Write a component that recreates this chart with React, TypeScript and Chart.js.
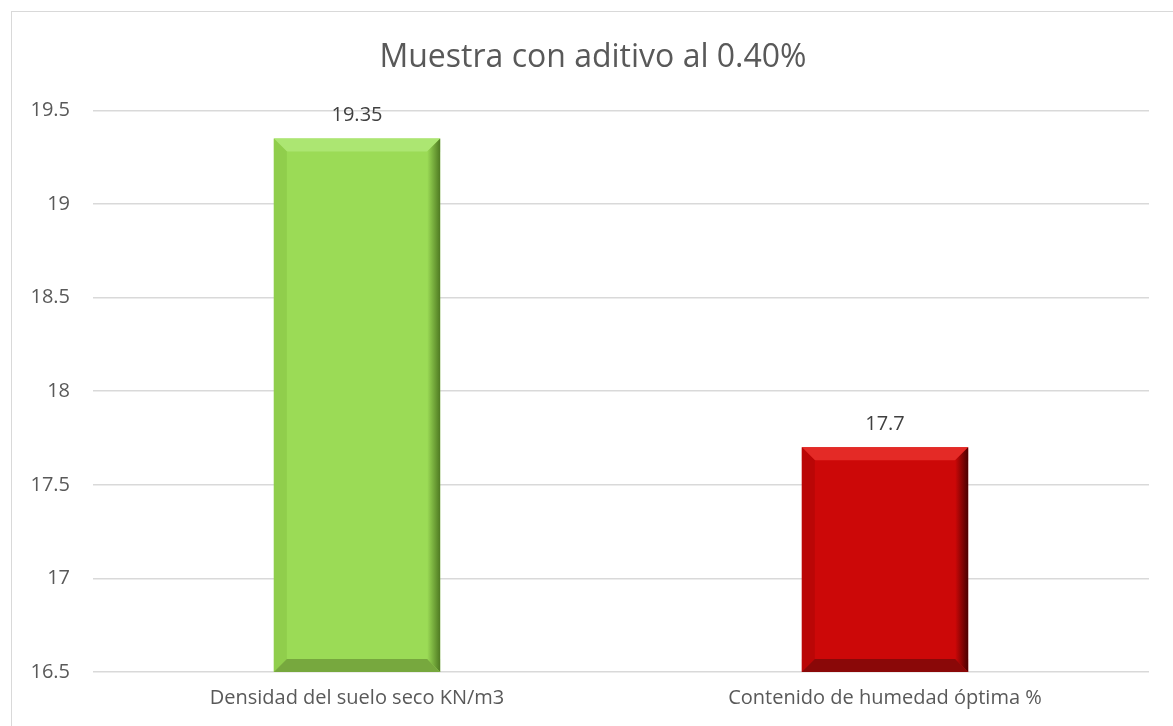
import React, { useEffect, useRef } from "react";
import { Chart, registerables } from "chart.js";

Chart.register(...registerables);

const categories = ["Densidad del suelo seco KN/m3", "Contenido de humedad óptima %"];
const values = [19.35, 17.7];
const barColors = ["#9BDB56", "#CC0808"];
const yTicks = [16.5, 17, 17.5, 18, 18.5, 19, 19.5];
const titleText = "Muestra con aditivo al 0.40%";

const bevelShades: Record<string, { top: string; left: string; right: string; bottom: string }> = {
  "#9BDB56": { top: "#ACE672", left: "#90CE4C", right: "#4F7A22", bottom: "#77A83E" },
  "#CC0808": { top: "#E42A26", left: "#BA0606", right: "#4A0000", bottom: "#8A0808" },
};

const titleShiftPlugin = {
  id: "titleShift",
  afterLayout(chart: any) {
    const t = chart.titleBlock;
    if (t) {
      t.left = 37;
      t.right = chart.chartArea.right;
      t.width = t.right - t.left;
    }
  },
};

const bevelPlugin = {
  id: "bevel",
  afterDatasetsDraw(chart: any) {
    const ctx = chart.ctx;
    const meta = chart.getDatasetMeta(0);
    const area = chart.chartArea;
    meta.data.forEach((bar: any, i: number) => {
      const shades = bevelShades[barColors[i]];
      const left = bar.x - bar.width / 2;
      const right = bar.x + bar.width / 2;
      const top = bar.y;
      const bottom = Math.min(bar.base, area.bottom);
      const b = 13;
      ctx.save();
      ctx.fillStyle = shades.top;
      ctx.beginPath();
      ctx.moveTo(left, top);
      ctx.lineTo(right, top);
      ctx.lineTo(right - b, top + b);
      ctx.lineTo(left + b, top + b);
      ctx.closePath();
      ctx.fill();
      ctx.fillStyle = shades.left;
      ctx.beginPath();
      ctx.moveTo(left, top);
      ctx.lineTo(left + b, top + b);
      ctx.lineTo(left + b, bottom - b);
      ctx.lineTo(left, bottom);
      ctx.closePath();
      ctx.fill();
      const g = ctx.createLinearGradient(right - b, 0, right, 0);
      g.addColorStop(0, barColors[i]);
      g.addColorStop(1, shades.right);
      ctx.fillStyle = g;
      ctx.beginPath();
      ctx.moveTo(right, top);
      ctx.lineTo(right, bottom);
      ctx.lineTo(right - b, bottom - b);
      ctx.lineTo(right - b, top + b);
      ctx.closePath();
      ctx.fill();
      ctx.fillStyle = shades.bottom;
      ctx.beginPath();
      ctx.moveTo(left, bottom);
      ctx.lineTo(right, bottom);
      ctx.lineTo(right - b, bottom - b);
      ctx.lineTo(left + b, bottom - b);
      ctx.closePath();
      ctx.fill();
      ctx.restore();

      ctx.save();
      ctx.font = "20px 'Open Sans'";
      ctx.fillStyle = "#404040";
      ctx.textAlign = "center";
      ctx.textBaseline = "alphabetic";
      ctx.fillText(String(values[i]), bar.x, top - 17);
      ctx.restore();
    });
  },
};

export default function App() {
  const ref = useRef<HTMLCanvasElement | null>(null);
  useEffect(() => {
    if (!ref.current) return;
    const chart = new Chart(ref.current, {
      type: "bar",
      data: {
        labels: categories,
        datasets: [
          {
            data: values,
            backgroundColor: barColors,
            borderWidth: 0,
            categoryPercentage: 1,
            barPercentage: 0.315,
          },
        ],
      },
      options: {
        animation: false,
        responsive: false,
        maintainAspectRatio: false,
        layout: { padding: { left: 0, right: 24, top: 0, bottom: 0 } },
        plugins: {
          legend: { display: false },
          tooltip: { enabled: false },
          title: {
            display: true,
            text: titleText,
            color: "#595959",
            font: { family: "'Open Sans'", size: 32, weight: "normal" },
            padding: { top: 39, bottom: 33 },
          },
        },
        scales: {
          x: {
            grid: { display: false, drawTicks: false },
            border: { display: false },
            ticks: {
              color: "#595959",
              font: { family: "'Open Sans'", size: 20 },
              padding: 14,
              maxRotation: 0,
              autoSkip: false,
            },
            afterFit: (axis: any) => {
              axis.height = 54;
            },
          },
          y: {
            min: 16.5,
            max: 19.5,
            afterBuildTicks: (axis: any) => {
              axis.ticks = yTicks.map((v) => ({ value: v }));
            },
            grid: { color: "#D9D9D9", lineWidth: 1.5, drawTicks: false },
            border: { display: false },
            ticks: {
              color: "#595959",
              font: { family: "'Open Sans'", size: 20 },
              padding: 23,
              callback: (v: any) => String(v),
            },
            afterFit: (axis: any) => {
              axis.width = 93;
            },
          },
        },
      },
      plugins: [titleShiftPlugin, bevelPlugin],
    });
    return () => chart.destroy();
  }, []);

  return (
    <div style={{ position: "fixed", left: 0, top: 0, width: 1173, height: 726, overflow: "hidden", background: "#fff" }}>
      <div
        style={{
          position: "absolute",
          left: 11,
          top: 11,
          width: 1200,
          height: 760,
          border: "1.5px solid #D9D9D9",
          boxSizing: "border-box",
        }}
      />
      <canvas ref={ref} width={1173} height={726} style={{ position: "absolute", left: 0, top: 0 }} />
    </div>
  );
}
